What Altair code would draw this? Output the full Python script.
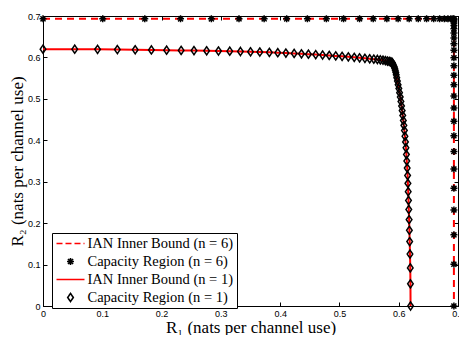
import altair as alt
import pandas as pd

# ---------------- data ----------------
series = [
    "IAN Inner Bound (n = 6)",
    "Capacity Region (n = 6)",
    "IAN Inner Bound (n = 1)",
    "Capacity Region (n = 1)",
]
series_colors = ["#ff0000", "#000000", "#ff0000", "#000000"]

ticks = [0, 0.1, 0.2, 0.3, 0.4, 0.5, 0.6, 0.7]

# IAN inner bound, n = 6 (dashed corner)
ian6_r1 = [0.0, 0.6931, 0.6931]
ian6_r2 = [0.6931, 0.6931, 0.0]

# Capacity region, n = 6 (stars)
cap6_r1 = [0, 0.1008, 0.1717, 0.232, 0.284, 0.3306, 0.373, 0.411, 0.446, 0.478,
           0.507, 0.534, 0.557, 0.580, 0.599, 0.6176, 0.633, 0.647, 0.659, 0.669,
           0.677, 0.683, 0.688, 0.6915, 0.6931,
           0.6931, 0.6931, 0.6931, 0.6931, 0.6931, 0.6931, 0.6931, 0.6931, 0.6931,
           0.6931, 0.6931, 0.6931, 0.6931, 0.6931, 0.6931, 0.6931, 0.6931, 0.6931,
           0.6931, 0.6931, 0.6931, 0.6931, 0.6931, 0.6931]
cap6_r2 = [0.6931, 0.6931, 0.6931, 0.6931, 0.6931, 0.6931, 0.6931, 0.6931, 0.6931,
           0.6931, 0.6931, 0.6931, 0.6931, 0.6931, 0.6931, 0.6931, 0.6931, 0.6931,
           0.6931, 0.6931, 0.6931, 0.6931, 0.6931, 0.6931, 0.6931,
           0.6915, 0.688, 0.683, 0.677, 0.669, 0.659, 0.647, 0.633, 0.6176, 0.599,
           0.580, 0.557, 0.534, 0.507, 0.478, 0.446, 0.411, 0.373, 0.3306, 0.284,
           0.232, 0.1717, 0.1008, 0]

# Capacity region / IAN bound, n = 1 (upper branch; curve is symmetric)
n1_top_r1 = [0, 0.0535, 0.092, 0.1254, 0.1555, 0.1828, 0.2085, 0.233, 0.2547, 0.276,
             0.296, 0.315, 0.333, 0.350, 0.3657, 0.3818, 0.396, 0.4097, 0.4236, 0.436,
             0.4477, 0.460, 0.4716, 0.4828, 0.4938, 0.5045, 0.515, 0.525, 0.534, 0.543,
             0.551, 0.558, 0.564, 0.569, 0.5735, 0.5775, 0.581, 0.584, 0.5865]
n1_top_r2 = [0.620, 0.6198, 0.6195, 0.619, 0.6185, 0.618, 0.6175, 0.617, 0.6165, 0.616,
             0.6155, 0.615, 0.6143, 0.6136, 0.613, 0.6122, 0.6114, 0.6105, 0.6096, 0.6087,
             0.6078, 0.6068, 0.6058, 0.6048, 0.6037, 0.6026, 0.6014, 0.6002, 0.599, 0.5978,
             0.5967, 0.5958, 0.595, 0.5942, 0.5933, 0.5923, 0.5912, 0.5902, 0.5893]
n1_corner = 0.5885

n1_r1 = n1_top_r1 + [n1_corner] + n1_top_r2[::-1]
n1_r2 = n1_top_r2 + [n1_corner] + n1_top_r1[::-1]

# ---------------- tables ----------------
df_ian6 = pd.DataFrame({"r1": ian6_r1, "r2": ian6_r2, "i": range(len(ian6_r1))})
df_ian1 = pd.DataFrame({"r1": n1_r1, "r2": n1_r2, "i": range(len(n1_r1))})
df_cap = pd.concat([
    pd.DataFrame({"r1": cap6_r1, "r2": cap6_r2, "series": series[1]}),
    pd.DataFrame({"r1": n1_r1, "r2": n1_r2, "series": series[3]}),
], ignore_index=True)

# symbols drawn at a common size of 784 (28 px box); the markers are small inside it
SYM = 784
STAR = ("M0,-0.25L0,0.25M-0.25,0L0.25,0M-0.18,-0.18L0.18,0.18"
        "M-0.18,0.18L0.18,-0.18")
DIAMOND = "M-0.2,0L0,-0.29L0.2,0L0,0.29Z"

SERIF = "Liberation Serif"
SANS = "Liberation Sans"

xscale = alt.Scale(domain=[0, 0.7], nice=False, zero=False)
yscale = alt.Scale(domain=[0, 0.7], nice=False, zero=False)

lab_expr = "datum.value == 0 ? '0' : format(datum.value, '.1f')"
common_axis = dict(
    values=ticks, grid=False, domainColor="black", domainWidth=1,
    tickColor="black", tickWidth=1, tickSize=alt.ExprRef(expr="-4"),
    labelFont=SANS, labelFontSize=9, labelColor="black", labelFlush=False,
    titleFont=SERIF, titleFontSize=17, titleFontWeight="normal", titleColor="black",
)

x_main = alt.X("r1:Q", scale=xscale,
               axis=alt.Axis(orient="bottom", labelExpr=lab_expr, labelPadding=7,
                             title="R₁ (nats per channel use)", titlePadding=1, **common_axis))
y_main = alt.Y("r2:Q", scale=yscale,
               axis=alt.Axis(orient="left", labelExpr=lab_expr, labelPadding=7,
                             title="R₂ (nats per channel use)", titlePadding=1, **common_axis))
x_none = alt.X("r1:Q", scale=xscale, axis=None)
y_none = alt.Y("r2:Q", scale=yscale, axis=None)

ian6 = alt.Chart(df_ian6).mark_line(color="#ff0000", strokeWidth=2, strokeDash=[7, 5]).encode(
    x=x_main, y=y_main, order="i:Q")

ian1 = alt.Chart(df_ian1).mark_line(color="#ff0000", strokeWidth=2).encode(
    x=x_none, y=y_none, order="i:Q")

legend = alt.Legend(
    title=None, orient="none", legendX=9, legendY=217, direction="vertical",
    padding=3.5, strokeColor="black", fillColor="white", cornerRadius=0,
    labelFont=SERIF, labelFontSize=14.5, labelColor="black", labelLimit=300,
    symbolSize=SYM, symbolStrokeWidth=1.6, symbolOffset=0, labelOffset=2,
    clipHeight=14, rowPadding=3, symbolOpacity=1,
)

cap = alt.Chart(df_cap).mark_point(filled=False, size=SYM, strokeWidth=1.5, opacity=1).encode(
    x=x_none, y=y_none,
    shape=alt.Shape("series:N",
                    scale=alt.Scale(domain=series, range=["stroke", STAR, "stroke", DIAMOND]),
                    legend=legend),
    color=alt.Color("series:N", scale=alt.Scale(domain=series, range=series_colors),
                    legend=legend),
    strokeDash=alt.StrokeDash("series:N",
                              scale=alt.Scale(domain=series,
                                              range=[[6, 3], [1, 0], [1, 0], [1, 0]]),
                              legend=legend),
)

frame_axis = dict(values=ticks, grid=False, labels=False, domainColor="black", domainWidth=1,
                  tickColor="black", tickWidth=1, tickSize=alt.ExprRef(expr="-4"), title=None)
frame = alt.Chart(df_ian6).mark_point(opacity=0).encode(
    x=alt.X("r1:Q", scale=xscale, axis=alt.Axis(orient="top", **frame_axis)),
    y=alt.Y("r2:Q", scale=yscale, axis=alt.Axis(orient="right", **frame_axis)),
)

chart = alt.layer(ian6, ian1, cap, frame).resolve_axis(
    x="independent", y="independent"
).properties(
    width=415, height=290,
    autosize=alt.AutoSizeParams(type="none"),
    padding={"left": 35, "top": 8, "right": 1, "bottom": 29},
    background="white",
).configure_view(stroke="black", strokeWidth=1)

chart.save("out.html", embed_options={"renderer": "svg", "actions": False})
